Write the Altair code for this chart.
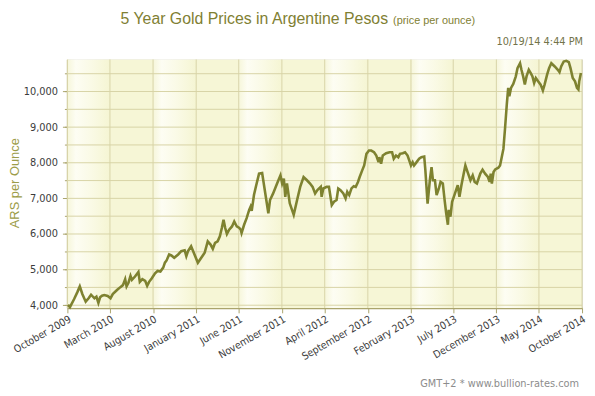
import altair as alt
import pandas as pd

# ---- data (day offset from 2009-10-01, price in ARS/oz)
start_date = "2009-10-01"
day_offset = [2, 9, 24, 35, 44, 53, 65, 76, 84, 96, 103, 110, 116, 123, 131, 143, 153, 161,
              176, 188, 197, 205, 210, 217, 224, 229, 240, 252, 257, 266, 276, 283, 290, 299,
              311, 320, 330, 340, 346, 352, 361, 369, 379, 393, 404, 416, 422, 428, 439, 451,
              463, 475, 487, 498, 508, 516, 524, 533, 541, 548, 554, 560, 566, 574, 584, 592,
              601, 610, 615, 618, 627, 636, 645, 650, 654, 662, 670, 680, 691, 713, 719, 730,
              744, 756, 762, 768, 773, 779, 789, 803, 815, 826, 838, 850, 861, 870, 879, 887,
              899, 902, 908, 920, 928, 938, 946, 955, 961, 969, 979, 987, 993, 1000, 1008, 1016,
              1023, 1031, 1037, 1046, 1053, 1061, 1070, 1078, 1088, 1096, 1104, 1107, 1113, 1119,
              1131, 1143, 1152, 1158, 1166, 1174, 1180, 1190, 1198, 1207, 1219, 1225, 1230, 1239,
              1248, 1256, 1266, 1270, 1278, 1286, 1292, 1297, 1304, 1310, 1318, 1324, 1332, 1339,
              1344, 1350, 1353, 1359, 1365, 1371, 1379, 1385, 1391, 1398, 1406, 1412, 1420, 1430,
              1438, 1445, 1453, 1465, 1473, 1482, 1492, 1498, 1502, 1506, 1512, 1518, 1529, 1535,
              1541, 1547, 1553, 1559, 1564, 1568, 1574, 1582, 1591, 1597, 1606, 1611, 1617, 1623,
              1629, 1637, 1644, 1650, 1656, 1662, 1670, 1679, 1687, 1693, 1702, 1709, 1717, 1729,
              1740, 1746, 1752, 1761, 1770, 1779, 1785, 1793, 1801, 1808, 1813, 1816, 1822]
price = [4008, 3944, 4175, 4361, 4528, 4314, 4100, 4203, 4295, 4194, 4239, 4064, 4222, 4267,
         4286, 4258, 4194, 4314, 4425, 4508, 4564, 4731, 4528, 4639, 4822, 4711, 4806, 4933,
         4656, 4731, 4684, 4544, 4656, 4750, 4897, 4961, 4944, 5056, 5194, 5258, 5425, 5397,
         5333, 5425, 5517, 5544, 5378, 5517, 5656, 5425, 5194, 5333, 5472, 5794, 5703, 5583,
         5750, 5794, 5933, 6167, 6397, 6167, 6000, 6119, 6211, 6350, 6211, 6167, 6119, 6028,
         6258, 6444, 6675, 6767, 6647, 7092, 7369, 7694, 7711, 6583, 6953, 7139, 7417, 7647,
         7417, 7556, 7044, 7417, 6861, 6536, 6953, 7322, 7600, 7508, 7417, 7322, 7139, 7231,
         7322, 7044, 7278, 7322, 7322, 6814, 6906, 6953, 7278, 7231, 7139, 7000, 7183, 7092,
         7278, 7342, 7322, 7461, 7600, 7786, 7925, 8250, 8342, 8342, 8294, 8203, 8017, 8156,
         7972, 8203, 8267, 8294, 8294, 8111, 8203, 8156, 8250, 8267, 8294, 8203, 7925, 8017,
         7925, 8017, 8111, 8156, 8175, 7800, 6850, 7508, 7878, 7508, 7508, 7092, 7278, 7461,
         7417, 6906, 6583, 6258, 6675, 6489, 6906, 7044, 7231, 7369, 7044, 7369, 7694, 7925,
         7739, 7508, 7647, 7461, 7417, 7694, 7806, 7694, 7600, 7461, 7694, 7417, 7739, 7814,
         7861, 7925, 8156, 8389, 8989, 9639, 10100, 9869, 10100, 10211, 10425, 10656, 10794,
         10611, 10425, 10194, 10425, 10611, 10517, 10425, 10239, 10378, 10286, 10194, 10028,
         10194, 10472, 10656, 10794, 10703, 10611, 10544, 10703, 10842, 10861, 10822, 10656,
         10378, 10286, 10100, 10056, 10286, 10517]

tick_months = ["2009-10-01", "2010-03-01", "2010-08-01", "2011-01-01", "2011-06-01",
               "2011-11-01", "2012-04-01", "2012-09-01", "2013-02-01", "2013-07-01",
               "2013-12-01", "2014-05-01", "2014-10-01"]
y_grid = [4000, 4500, 5000, 5500, 6000, 6500, 7000, 7500, 8000, 8500, 9000, 9500, 10000, 10500]
y_major = [4000, 5000, 6000, 7000, 8000, 9000, 10000]

title_main = "5 Year Gold Prices in Argentine Pesos"
title_sub = "(price per ounce)"
stamp = "10/19/14 4:44 PM"
footer = "GMT+2 * www.bullion-rates.com"
y_title = "ARS per Ounce"

# ---- tables
df = pd.DataFrame({
    "date": pd.Timestamp(start_date) + pd.to_timedelta(day_offset, unit="D"),
    "price": price,
})
ticks = pd.to_datetime(tick_months)
bands = pd.DataFrame({"start": ticks[:-1], "end": ticks[1:], "idx": list(range(len(ticks) - 1))})
bands_a = bands[bands["idx"] % 2 == 0]
bands_b = bands[bands["idx"] % 2 == 1]
vgrid = pd.DataFrame({"d": ticks})
hgrid = pd.DataFrame({"v": y_grid})

W, H = 520, 251
GRID = "#d8d3a6"
OLIVE = "#7e8230"
DOMAIN = "#aaa46c"
TICKFONT = "DejaVu Sans Condensed, Noto Sans, sans-serif"

def dt(s):
    t = pd.Timestamp(s)
    return alt.DateTime(year=t.year, month=t.month, date=t.day)

xscale = alt.Scale(domain=[dt(tick_months[0]), dt(tick_months[-1])])
yscale = alt.Scale(domain=[3925, 10900], nice=False, zero=False)

xaxis = alt.Axis(values=[dt(s) for s in tick_months], format="%B %Y", formatType="time",
                 labelAngle=330, labelAlign="right", labelBaseline="top",
                 labelPadding=1, tickSize=5, grid=False,
                 labelOverlap=False, labelFlush=False, domainColor=DOMAIN,
                 domainWidth=2, tickColor=DOMAIN, labelFont=TICKFONT, labelFontSize=10.5,
                 labelColor="#3c3c3c")

grad = alt.Gradient(
    gradient="linear", x1=0, x2=1, y1=0, y2=0,
    stops=[alt.GradientStop(color="#f6f6da", offset=0),
           alt.GradientStop(color="#fdfdf3", offset=0.2),
           alt.GradientStop(color="#fafae6", offset=0.55),
           alt.GradientStop(color="#f5f5d3", offset=1)],
)

band_a = alt.Chart(bands_a).mark_rect(fill=grad).encode(
    x=alt.X("start:T", scale=xscale, axis=xaxis, title=None), x2="end:T")
band_b = alt.Chart(bands_b).mark_rect(fill="#f6f6d6").encode(
    x=alt.X("start:T", scale=xscale, axis=xaxis, title=None), x2="end:T")

hrules = alt.Chart(hgrid).mark_rule(color=GRID, strokeWidth=1).encode(
    y=alt.Y("v:Q", scale=yscale, axis=None))
vrules = alt.Chart(vgrid).mark_rule(color=GRID, strokeWidth=1).encode(
    x=alt.X("d:T", scale=xscale, axis=xaxis, title=None))

line = alt.Chart(df).mark_line(color=OLIVE, strokeWidth=2.6, strokeJoin="miter").encode(
    x=alt.X("date:T", scale=xscale, title=None, axis=xaxis),
    y=alt.Y("price:Q", scale=yscale, title=None,
            axis=alt.Axis(values=y_major, format=",.0f", formatType="number", tickSize=5,
                          grid=False, orient="left", labelPadding=5, domainColor=DOMAIN,
                          domainWidth=2, tickColor=DOMAIN, labelFont=TICKFONT,
                          labelFontSize=11, labelColor="#3c3c3c")),
)

minor = alt.Chart(df).mark_line(opacity=0).encode(
    x=alt.X("date:T", scale=xscale, title=None, axis=xaxis),
    y=alt.Y("price:Q", scale=yscale, title=None,
            axis=alt.Axis(values=y_grid, tickSize=3, labels=False, grid=False, orient="left",
                          domain=False, tickColor=DOMAIN)),
)

def label(text, x, y, size, color, font, align="left", angle=0, baseline="alphabetic"):
    return alt.Chart(pd.DataFrame({"t": [text]})).mark_text(
        fontSize=size, color=color, font=font, align=align, baseline=baseline, angle=angle
    ).encode(text="t:N", x=alt.value(x), y=alt.value(y))

SANS = "Liberation Sans, Arial, sans-serif"
t1 = label(title_main, 324, -36, 16, "#7f8033", SANS, align="right")
t2 = label(title_sub, 329, -36, 11, "#7f8033", SANS, align="left")
t3 = label(stamp, 521, -15, 11, "#73734a", TICKFONT, align="right")
t4 = label(footer, 517, 331, 11, "#8c8c8c", TICKFONT, align="right")
t5 = label(y_title, -53, 125, 13, "#9c9c48", SANS, align="center", angle=270, baseline="middle")

chart = alt.layer(band_a, band_b, hrules, vrules, line, minor, t1, t2, t3, t4, t5).resolve_axis(
    y="independent"
).properties(
    width=W, height=H,
    autosize=alt.AutoSizeParams(type="none"),
    padding={"left": 60, "top": 50, "right": 5, "bottom": 83},
).configure_view(stroke="#d2cd9e", strokeWidth=1).configure(background="white")

chart.save("out.html", embed_options={"renderer": "svg", "actions": False})
